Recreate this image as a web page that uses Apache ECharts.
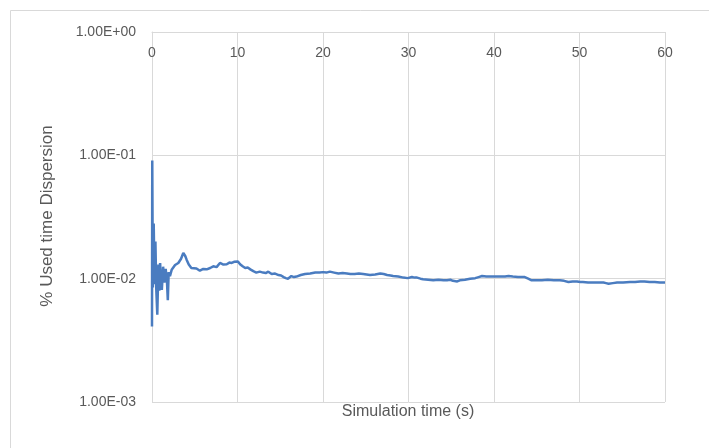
<!DOCTYPE html>
<html>
<head>
<meta charset="utf-8">
<script src="https://cdn.jsdelivr.net/npm/echarts@6/dist/echarts.min.js"></script>
<style>
html,body{margin:0;padding:0;background:#fff;}
#chart{width:709px;height:448px;}
</style>
</head>
<body>
<div id="chart"></div>
<script>
const xTickValues = [0, 10, 20, 30, 40, 50, 60];
const yTickValues = [0.001, 0.01, 0.1, 1];
const xTitle = 'Simulation time (s)';
const yTitle = '% Used time Dispersion';

const times = [
  0, 0.03, 0.1, 0.2, 0.3, 0.4, 0.5, 0.62, 0.75, 0.85, 0.95, 1.05, 1.15, 1.3, 1.45, 1.6, 1.75, 1.85, 1.95, 2.1,
  2.3, 2.5, 2.7, 2.9, 3.08, 3.4, 3.66, 3.9, 4.06, 4.3, 4.6, 4.83, 5.2, 5.6, 6.0, 6.4, 6.8, 7.17, 7.55, 7.95,
  8.35, 8.74, 9.05, 9.32, 9.6, 9.82, 10.05, 10.3, 10.6, 10.9, 11.2, 11.5, 11.85, 12.2, 12.6, 13.0, 13.3, 13.6,
  14.0, 14.4, 14.8, 15.1, 15.4, 15.65, 15.9, 16.1, 16.3, 16.6, 16.9, 17.4, 17.9, 18.5, 19.1, 19.6, 20.0, 20.4,
  20.8, 21.3, 21.8, 22.3, 22.8, 23.2, 23.7, 24.2, 24.7, 25.1, 25.5, 26.1, 26.7, 27.1, 27.5, 27.9, 28.2, 28.8,
  29.4, 29.9, 30.4, 30.7, 31.0, 31.4, 31.7, 32.3, 32.9, 33.5, 34.1, 34.5, 34.9, 35.2, 35.4, 35.7, 36.0, 36.6,
  37.2, 37.8, 38.2, 38.6, 39.1, 39.7, 40.3, 40.9, 41.3, 41.7, 42.2, 42.8, 43.2, 43.6, 44.0, 44.4, 45.0, 45.6,
  46.3, 47.0, 47.7, 48.2, 48.7, 49.2, 49.7, 50.1, 50.4, 51.0, 51.6, 52.2, 52.8, 53.1, 53.4, 53.9, 54.4, 55.1,
  55.9, 56.5, 57.1, 57.6, 58.2, 58.8, 59.4, 60.0
];
const values = [
  0.0041, 0.091, 0.0085, 0.028, 0.009, 0.020, 0.0082, 0.0051, 0.0130, 0.0080, 0.0134, 0.0095, 0.0081, 0.0125, 0.0093, 0.0120, 0.0095, 0.0067, 0.0113, 0.0105,
  0.0118, 0.0122, 0.0129, 0.0127, 0.0134, 0.0145, 0.0162, 0.0152, 0.0142, 0.0130, 0.0122, 0.0119, 0.0121, 0.0116, 0.0120, 0.0119, 0.0122, 0.0126, 0.0124, 0.0134,
  0.0130, 0.0131, 0.0135, 0.0134, 0.0137, 0.0142, 0.0138, 0.0131, 0.0126, 0.0122, 0.0123, 0.0119, 0.0115, 0.0112, 0.0114, 0.0112, 0.0111, 0.0114,
  0.0109, 0.0110, 0.0107, 0.0106, 0.0103, 0.0101, 0.0100, 0.0102, 0.0105, 0.0103, 0.0104, 0.0107, 0.0109, 0.0110, 0.0112, 0.0112, 0.0113, 0.0112,
  0.0114, 0.0112, 0.0110, 0.0111, 0.0110, 0.0109, 0.0109, 0.0110, 0.0109, 0.0108, 0.0107, 0.0108, 0.0110, 0.0109, 0.0107, 0.0106, 0.0105, 0.0104,
  0.0102, 0.0101, 0.0103, 0.0102, 0.0102, 0.0100, 0.0099, 0.0098, 0.0097, 0.0098, 0.0097, 0.0097, 0.0098, 0.0096, 0.0094, 0.0095, 0.0097, 0.0098,
  0.0100, 0.0101, 0.0103, 0.0105, 0.0104, 0.0104, 0.0104, 0.0104, 0.0104, 0.0105, 0.0104, 0.0103, 0.0103, 0.0103, 0.0100, 0.0097, 0.0097, 0.0097,
  0.0098, 0.0097, 0.0097, 0.0096, 0.0094, 0.0095, 0.0095, 0.0094, 0.0094, 0.0093, 0.0093, 0.0093, 0.0093, 0.0092, 0.0091, 0.0092, 0.0093, 0.0093,
  0.0094, 0.0094, 0.0095, 0.0095, 0.0094, 0.0094, 0.0093, 0.0093
];

function sciLabel(v) {
  const e = Math.round(Math.log10(v));
  const sign = e < 0 ? '-' : '+';
  const a = Math.abs(e);
  return '1.00E' + sign + (a < 10 ? '0' + a : '' + a);
}

const data = times.map((t, i) => [t, values[i]]);
const chart = echarts.init(document.getElementById('chart'), null, {renderer: 'canvas'});
const gray = '#d9d9d9';
const labelColor = '#595959';
const font = '"Liberation Sans", Arial, sans-serif';

chart.setOption({
  animation: false,
  backgroundColor: '#ffffff',
  grid: {left: 152, top: 32, right: 44, bottom: 46, containLabel: false},
  xAxis: {
    type: 'value',
    position: 'top',
    min: xTickValues[0],
    max: xTickValues[xTickValues.length - 1],
    interval: xTickValues[1] - xTickValues[0],
    axisLine: {show: true, lineStyle: {color: gray, width: 1}},
    axisTick: {show: false},
    axisLabel: {inside: true, color: labelColor, fontSize: 14, fontFamily: font, margin: 14},
    splitLine: {show: true, lineStyle: {color: gray, width: 1}}
  },
  yAxis: {
    type: 'log',
    logBase: 10,
    min: yTickValues[0],
    max: yTickValues[yTickValues.length - 1],
    axisLine: {show: true, lineStyle: {color: gray, width: 1}},
    axisTick: {show: false},
    minorTick: {show: false},
    axisLabel: {color: labelColor, fontSize: 14, fontFamily: font, margin: 16, formatter: sciLabel},
    splitLine: {show: true, lineStyle: {color: gray, width: 1}}
  },
  graphic: [
    {type: 'rect', shape: {x: 10.5, y: 10.5, width: 720, height: 460}, style: {fill: 'none', stroke: gray, lineWidth: 1}, silent: true},
    {type: 'text', x: 408, y: 412, style: {text: xTitle, fill: labelColor, font: '16px ' + font, textAlign: 'center', textVerticalAlign: 'middle'}},
    {type: 'text', x: 47, y: 216, rotation: Math.PI / 2, style: {text: yTitle, fill: labelColor, font: '17px ' + font, textAlign: 'center', textVerticalAlign: 'middle'}}
  ],
  series: [{
    type: 'line',
    data: data,
    showSymbol: false,
    smooth: false,
    lineStyle: {color: '#4a7cc0', width: 2.5},
    itemStyle: {color: '#4a7cc0'}
  }]
});
</script>
</body>
</html>
